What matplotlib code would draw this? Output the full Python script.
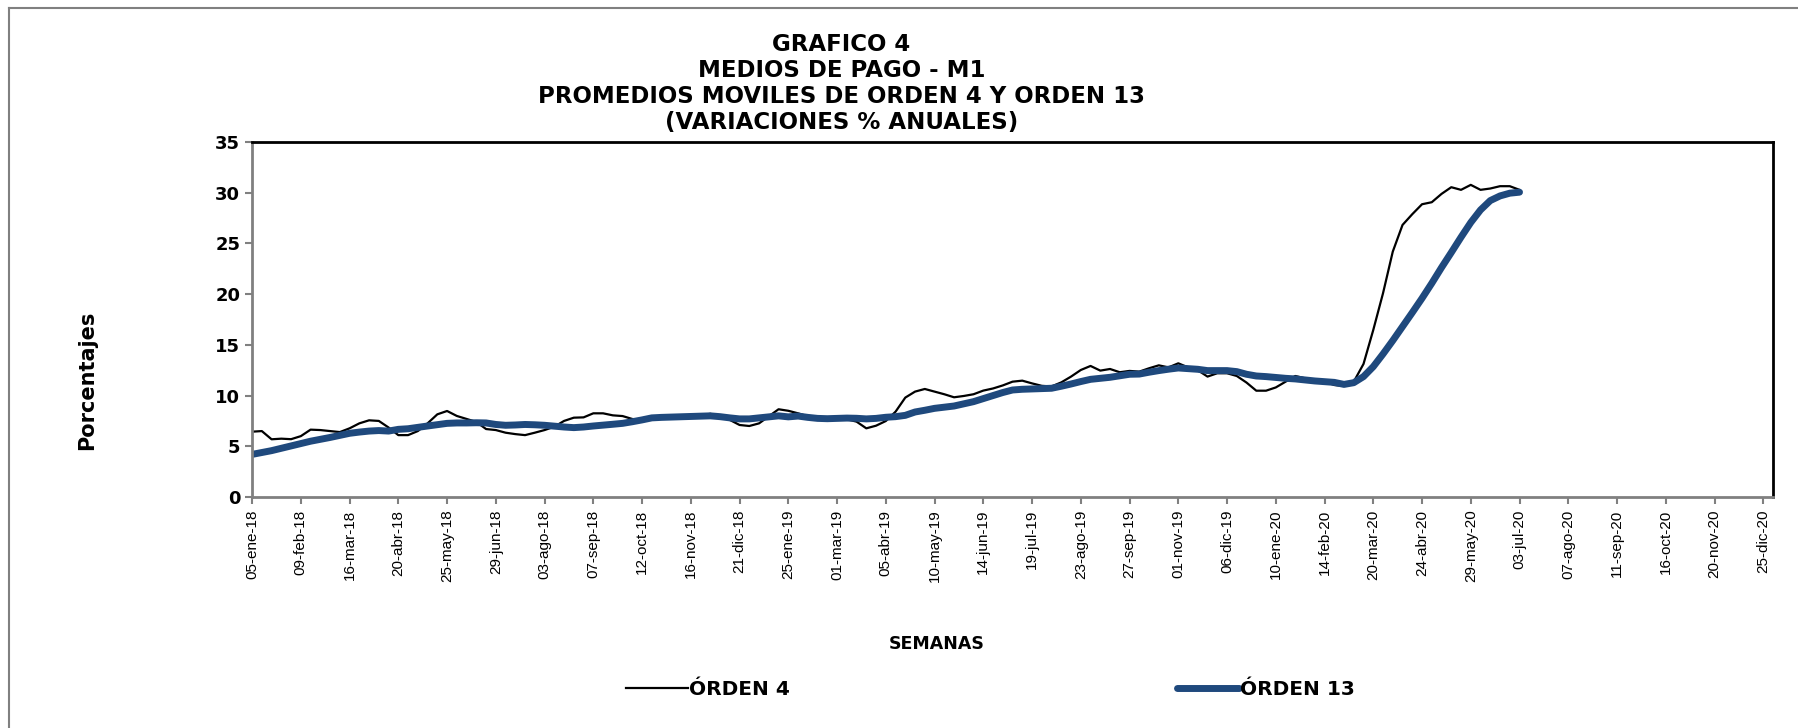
import matplotlib
matplotlib.use("Agg")
import matplotlib.pyplot as plt
from matplotlib.lines import Line2D

plt.rcParams['font.family'] = ['DejaVu Sans']

# promedio movil de orden 4 (semanal, desde 05-ene-18 hasta 03-jul-20)
orden_4 = [6.44, 6.5, 5.69, 5.75, 5.7, 6.0, 6.64, 6.6, 6.5, 6.4,
           6.77, 7.26, 7.56, 7.5, 6.85, 6.1, 6.1, 6.5, 7.26, 8.15,
           8.48, 7.99, 7.7, 7.4, 6.7, 6.6, 6.34, 6.2, 6.1, 6.34,
           6.6, 6.93, 7.5, 7.82, 7.85, 8.25, 8.25, 8.05, 7.98, 7.69,
           7.6, 7.75, 7.85, 7.9, 7.95, 7.98, 8.05, 8.2, 7.95, 7.6,
           7.1, 7.0, 7.26, 7.95, 8.65, 8.5, 8.25, 7.95, 7.6, 7.7,
           7.76, 7.66, 7.43, 6.77, 7.03, 7.49, 8.41, 9.8, 10.39, 10.65,
           10.39, 10.13, 9.83, 9.96, 10.13, 10.49, 10.7, 11.0, 11.37, 11.47,
           11.2, 10.96, 10.9, 11.3, 11.87, 12.52, 12.92, 12.46, 12.62, 12.3,
           12.43, 12.36, 12.69, 12.98, 12.78, 13.18, 12.78, 12.5, 11.87, 12.2,
           12.2, 11.93, 11.28, 10.48, 10.48, 10.8, 11.37, 11.93, 11.7, 11.47,
           11.37, 11.04, 10.94, 11.37, 13.12, 16.47, 20.09, 24.19, 26.82, 27.88,
           28.86, 29.06, 29.88, 30.54, 30.28, 30.77, 30.28, 30.41, 30.64, 30.64,
           30.28]

# promedio movil de orden 13
orden_13 = [4.2, 4.38, 4.57, 4.8, 5.03, 5.27, 5.5, 5.68, 5.87, 6.08,
            6.28, 6.4, 6.5, 6.55, 6.5, 6.67, 6.73, 6.87, 7.0, 7.13,
            7.26, 7.3, 7.3, 7.32, 7.3, 7.15, 7.07, 7.1, 7.15, 7.12,
            7.07, 6.98, 6.9, 6.84, 6.9, 7.0, 7.08, 7.17, 7.26, 7.42,
            7.6, 7.8, 7.85, 7.88, 7.9, 7.95, 7.98, 8.0, 7.92, 7.8,
            7.7, 7.7, 7.8, 7.9, 8.0, 7.9, 7.98, 7.85, 7.75, 7.72,
            7.75, 7.78, 7.76, 7.7, 7.75, 7.86, 7.92, 8.05, 8.38, 8.55,
            8.74, 8.85, 8.97, 9.18, 9.4, 9.7, 9.99, 10.3, 10.55, 10.62,
            10.65, 10.68, 10.72, 10.92, 11.14, 11.38, 11.6, 11.7, 11.8, 11.95,
            12.1, 12.12, 12.3, 12.46, 12.6, 12.72, 12.66, 12.59, 12.46, 12.46,
            12.46, 12.36, 12.1, 11.93, 11.87, 11.78, 11.7, 11.64, 11.54, 11.44,
            11.37, 11.3, 11.1, 11.27, 11.87, 12.85, 14.1, 15.42, 16.8, 18.18,
            19.59, 21.07, 22.62, 24.1, 25.61, 27.06, 28.3, 29.22, 29.68, 29.95,
            30.05]

# etiquetas del eje x (una cada 5 semanas)
etiquetas = ['05-ene-18', '09-feb-18', '16-mar-18', '20-abr-18', '25-may-18',
             '29-jun-18', '03-ago-18', '07-sep-18', '12-oct-18', '16-nov-18',
             '21-dic-18', '25-ene-19', '01-mar-19', '05-abr-19', '10-may-19',
             '14-jun-19', '19-jul-19', '23-ago-19', '27-sep-19', '01-nov-19',
             '06-dic-19', '10-ene-20', '14-feb-20', '20-mar-20', '24-abr-20',
             '29-may-20', '03-jul-20', '07-ago-20', '11-sep-20', '16-oct-20',
             '20-nov-20', '25-dic-20']
n_semanas = 157

fig = plt.figure(figsize=(17.98, 7.28), dpi=100)
ax = fig.add_axes([0.1402, 0.3173, 0.8459, 0.4877])

semanas = list(range(len(orden_4)))
ax.plot(semanas, orden_4, color='black', linewidth=1.6, label='ÓRDEN 4')
ax.plot(semanas, orden_13, color='#1F497D', linewidth=5, solid_capstyle='round',
        label='ÓRDEN 13')

ax.set_xlim(0, n_semanas - 1)
ax.set_ylim(0, 35)
ax.set_yticks(range(0, 36, 5))
ax.set_yticklabels([str(v) for v in range(0, 36, 5)], fontsize=13, fontweight='bold')
ax.set_xticks(range(0, 5 * len(etiquetas), 5))
ax.set_xticklabels(etiquetas, rotation=90, fontsize=11, family='Liberation Sans')

for lado in ['left', 'bottom']:
    ax.spines[lado].set_color('#808080')
    ax.spines[lado].set_linewidth(2)
for lado in ['top', 'right']:
    ax.spines[lado].set_color('black')
    ax.spines[lado].set_linewidth(2)
ax.tick_params(axis='both', color='#808080', width=1.5, length=5)
ax.tick_params(axis='x', pad=4)

fig.text(0.468, 0.885, 'GRAFICO 4\nMEDIOS DE PAGO - M1\nPROMEDIOS MOVILES DE ORDEN 4 Y ORDEN 13\n(VARIACIONES % ANUALES)',
         ha='center', va='center', fontsize=16.5, fontweight='bold', linespacing=1.17)
fig.text(0.0485, 0.477, 'Porcentajes', rotation=90, ha='center', va='center',
         fontsize=15, fontweight='bold')
fig.text(0.521, 0.115, 'SEMANAS', ha='center', va='center', fontsize=12.5, fontweight='bold')

fig.legend(loc='center', bbox_to_anchor=(0.551, 0.0535), ncol=2, frameon=False,
           handlelength=3.1, handletextpad=0.05, columnspacing=19.2,
           prop={'weight': 'bold', 'size': 14.5})

# marco gris del grafico (solo arriba e izquierda)
fig.add_artist(Line2D([0.005, 1.0], [0.989, 0.989], transform=fig.transFigure,
                      color='#808080', linewidth=1.5))
fig.add_artist(Line2D([0.005, 0.005], [0.0, 0.989], transform=fig.transFigure,
                      color='#808080', linewidth=1.5))

fig.savefig('out.png', dpi=100)
